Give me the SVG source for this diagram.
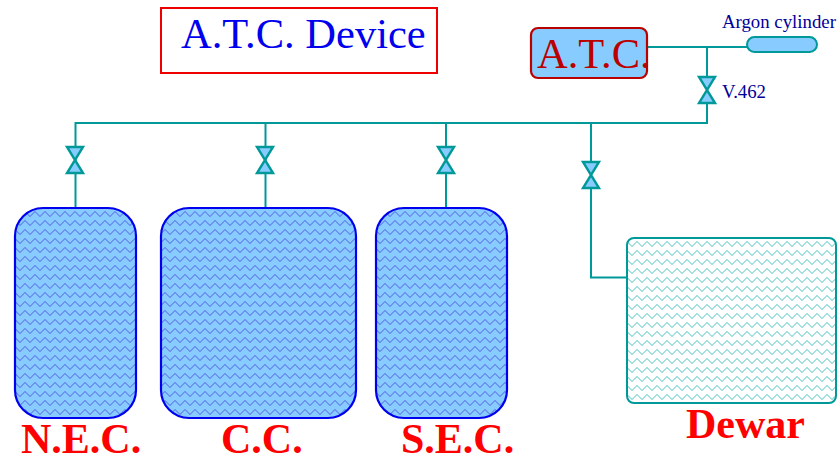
<svg xmlns="http://www.w3.org/2000/svg" width="837" height="457" viewBox="0 0 837 457">
<style>
.pipe{fill:none;stroke:#009999;stroke-width:2}
.valve{fill:#88ccff;stroke:#009999;stroke-width:2.400}
.tank{fill:#88ccff}
.edge{fill:none;stroke:#0000ee;stroke-width:2.200}
.big{font-family:"Liberation Serif",serif;font-size:42.5px}
.lab{font-family:"Liberation Serif",serif;font-weight:bold;font-size:42px;fill:#ff0000}
.small{font-family:"Liberation Serif",serif;font-size:18.8px;fill:#000099}
</style>
<defs>
<pattern id="zb" width="10" height="9" patternUnits="userSpaceOnUse" x="15" y="210"><path d="M0 1.500L5 6.500L10 1.500" fill="none" stroke="#6c94f0" stroke-width="1" shape-rendering="crispEdges"/></pattern>
<pattern id="zt" width="10" height="9" patternUnits="userSpaceOnUse" x="627" y="240"><path d="M0 1.500L5 6.500L10 1.500" fill="none" stroke="#a4e0e0" stroke-width="1" shape-rendering="crispEdges"/></pattern>
<path id="v" class="valve" d="M-8 -13H8L-8 13H8Z"/>
</defs>
<g id="connectors">
<path class="pipe" d="M75.500 208V123H707V48"/>
<path class="pipe" d="M265.500 208V123"/>
<path class="pipe" d="M446 208V123"/>
<path class="pipe" d="M591 123V277.500H627"/>
<path class="pipe" d="M648 47H747"/>
</g>
<g id="title"><rect x="161" y="8" width="276" height="65" fill="#fff" stroke="#ee0000" stroke-width="2"/><text class="big" x="181" y="48" fill="#0000ee">A.T.C. Device</text></g>
<g id="atc"><rect x="531" y="28" width="116" height="50" rx="7" fill="#88ccff" stroke="#bb0000" stroke-width="2.200"/><text class="big" x="537" y="68" fill="#bb0000">A.T.C.</text></g>
<g id="argon"><rect x="747" y="37" width="70" height="15" rx="7.500" fill="#88ccff" stroke="#009999" stroke-width="2"/><text class="small" x="722" y="28">Argon cylinder</text></g>
<g id="v462"><use href="#v" x="707" y="90"/><text class="small" x="722" y="98">V.462</text></g>
<g id="valve-nec"><use href="#v" x="75" y="160"/></g>
<g id="valve-cc"><use href="#v" x="265" y="160"/></g>
<g id="valve-sec"><use href="#v" x="446" y="160"/></g>
<g id="valve-dewar"><use href="#v" x="591" y="175"/></g>
<g id="nec"><rect class="tank" x="15" y="208" width="121" height="210" rx="28"/><rect x="15" y="208" width="121" height="210" rx="28" fill="url(#zb)"/><rect class="edge" x="15" y="208" width="121" height="210" rx="28"/><text class="lab" x="21" y="453">N.E.C.</text></g>
<g id="cc"><rect class="tank" x="161" y="208" width="195" height="210" rx="28"/><rect x="161" y="208" width="195" height="210" rx="28" fill="url(#zb)"/><rect class="edge" x="161" y="208" width="195" height="210" rx="28"/><text class="lab" x="221" y="453">C.C.</text></g>
<g id="sec"><rect class="tank" x="376" y="208" width="131" height="210" rx="28"/><rect x="376" y="208" width="131" height="210" rx="28" fill="url(#zb)"/><rect class="edge" x="376" y="208" width="131" height="210" rx="28"/><text class="lab" x="401" y="453">S.E.C.</text></g>
<g id="dewar"><rect x="627" y="238" width="209" height="165" rx="7" fill="url(#zt)" stroke="#009999" stroke-width="2"/><text class="lab" x="686" y="438">Dewar</text></g>
</svg>
